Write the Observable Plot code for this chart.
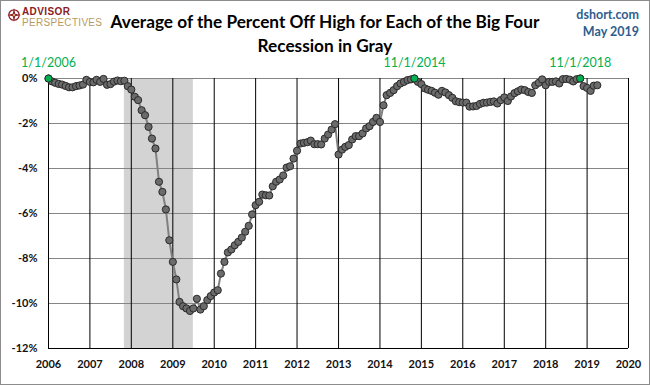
<!DOCTYPE html>
<html>
<head>
<meta charset="utf-8">
<script src="https://cdn.jsdelivr.net/npm/d3@7"></script>
<script src="https://cdn.jsdelivr.net/npm/@observablehq/plot@0.6"></script>
<style>
  body { margin: 0; background: #fff; }
  #wrap { position: relative; width: 650px; height: 385px; overflow: hidden; background: #fff; }
  #frame { position: absolute; left: 0; top: 0; width: 650px; height: 385px; box-sizing: border-box; border: 1px solid #8c8c8c; pointer-events: none; }
  .t { position: absolute; white-space: nowrap; line-height: 1; }
  .title { font-family: Lato, "Liberation Sans", sans-serif; font-weight: bold; color: #000; transform: translate(-50%, -50%); }
  .src { font-family: Lato, "Liberation Sans", sans-serif; font-weight: bold; color: #2E5E8E; font-size: 12.5px; transform: translate(-100%, -50%); }
  #chart svg { position: absolute; left: 0; top: 0; }
</style>
</head>
<body>
<div id="wrap">
  <div id="chart"></div>
  <svg class="t" style="left:7px;top:8px" width="14" height="14" viewBox="0 0 14 14">
    <circle cx="7" cy="7" r="5.2" fill="none" stroke="#8B1C24" stroke-width="1.3"/>
    <polygon points="7,0 8.2,5.8 14,7 8.2,8.2 7,14 5.8,8.2 0,7 5.8,5.8" fill="#8B1C24"/>
    <circle cx="7" cy="7" r="1.3" fill="#C9A86A"/>
  </svg>
  <div class="t" style="left:22px;top:7px;font-family:'Liberation Sans',sans-serif;font-weight:bold;font-size:10px;color:#8B1C24;letter-spacing:0.4px">ADVISOR</div>
  <div class="t" style="left:22px;top:17.5px;font-family:'Liberation Sans',sans-serif;font-size:10px;color:#B99A5E;letter-spacing:0.3px">PERSPECTIVES</div>
  <div class="t title" id="title1" style="left:325px;top:22px;font-size:18px">Average of the Percent Off High for Each of the Big Four</div>
  <div class="t title" id="title2" style="left:325px;top:46px;font-size:18px">Recession in Gray</div>
  <div class="t src" style="left:639px;top:15px">dshort.com</div>
  <div class="t src" style="left:639px;top:32px">May 2019</div>
  <div id="frame"></div>
</div>
<script>
// ---- data (percent off high, monthly, first of month) ----
const startYear = 2006;
const y2006 = [0, -0.13, -0.19, -0.24, -0.27, -0.33, -0.39, -0.39, -0.34, -0.31, -0.27, -0.06];
const y2007 = [-0.15, -0.17, -0.06, -0.15, -0.02, -0.28, -0.25, -0.14, -0.09, -0.12, -0.1, -0.34];
const y2008 = [-0.49, -0.81, -0.96, -1.41, -1.63, -2.15, -2.67, -3.11, -4.59, -5.04, -5.82, -7.19];
const y2009 = [-8.15, -8.93, -9.93, -10.12, -10.22, -10.33, -10.22, -9.79, -10.27, -10.12, -9.85, -9.67];
const y2010 = [-9.51, -9.41, -8.67, -8.15, -7.73, -7.6, -7.41, -7.26, -7.07, -6.81, -6.55, -6.04];
const y2011 = [-5.63, -5.48, -5.16, -5.19, -5.2, -4.79, -4.59, -4.49, -4.31, -3.96, -3.9, -3.56];
const y2012 = [-3.21, -2.89, -2.86, -2.83, -2.76, -2.92, -2.92, -2.93, -2.67, -2.49, -2.27, -2.03];
const y2013 = [-3.38, -3.16, -3.04, -2.96, -2.71, -2.56, -2.56, -2.44, -2.22, -2.12, -1.93, -1.75];
const y2014 = [-1.93, -1.19, -0.74, -0.64, -0.52, -0.34, -0.22, -0.15, -0.07, -0.04, 0, -0.15];
const y2015 = [-0.25, -0.44, -0.5, -0.55, -0.63, -0.72, -0.55, -0.62, -0.74, -0.86, -1.01, -1.05];
const y2016 = [-1.07, -1.07, -1.25, -1.24, -1.22, -1.13, -1.08, -1.07, -1.04, -1.02, -1.11, -0.96];
const y2017 = [-0.84, -1.0, -0.8, -0.65, -0.57, -0.49, -0.52, -0.6, -0.64, -0.3, -0.19, -0.04];
const y2018 = [-0.3, -0.15, -0.15, -0.13, -0.22, -0.03, -0.02, -0.05, -0.13, -0.03, 0, -0.34];
const y2019 = [-0.42, -0.55, -0.32, -0.3];

const yearSeries = [y2006, y2007, y2008, y2009, y2010, y2011, y2012, y2013, y2014, y2015, y2016, y2017, y2018, y2019];

const highDates = ["2006-01-01", "2014-11-01", "2018-11-01"];
const highLabels = ["1/1/2006", "11/1/2014", "11/1/2018"];

const recessionStart = ["2007-11-01"];
const recessionEnd = ["2009-07-01"];

const yearTicks = d3.range(2006, 2021);
const pctTicks = [0, -2, -4, -6, -8, -10, -12];

// ---- build tables ----
const data = [];
yearSeries.forEach((arr, yi) => {
  arr.forEach((v, m) => data.push({ date: new Date(Date.UTC(startYear + yi, m, 1)), value: v }));
});
const highs = highDates.map((d, i) => {
  const dt = new Date(d + "T00:00:00Z");
  const row = data.find(r => +r.date === +dt);
  return { date: dt, value: row ? row.value : 0, label: highLabels[i] };
});
const recessions = recessionStart.map((s, i) => ({ x1: new Date(s + "T00:00:00Z"), x2: new Date(recessionEnd[i] + "T00:00:00Z") }));
const yearDates = yearTicks.map(y => new Date(Date.UTC(y, 0, 1)));

const chart = Plot.plot({
  width: 650,
  height: 385,
  marginLeft: 48,
  marginRight: 22,
  marginTop: 78,
  marginBottom: 37,
  style: { fontFamily: "Lato, 'Liberation Sans', sans-serif", fontSize: "11px", fontWeight: "bold", color: "#111", background: "transparent" },
  x: { type: "utc", domain: [yearDates[0], yearDates[yearDates.length - 1]], ticks: yearDates, tickFormat: d3.utcFormat("%Y"), tickSize: 0, tickPadding: 12, label: null },
  y: { domain: [-12, 0], ticks: pctTicks, tickFormat: d => d + "%", tickSize: 0, tickPadding: 11, label: null },
  marks: [
    Plot.rect(recessions, { x1: "x1", x2: "x2", y1: -12, y2: 0, fill: "#d3d3d3" }),
    Plot.ruleY(pctTicks.filter(t => t !== -12), { stroke: "#858585", strokeWidth: 1 }),
    Plot.ruleX(yearDates, { stroke: "#000", strokeWidth: 1 }),
    Plot.ruleY([-12], { stroke: "#000", strokeWidth: 1 }),
    Plot.line(data, { x: "date", y: "value", stroke: "#808080", strokeWidth: 2 }),
    Plot.dot(data, { x: "date", y: "value", r: 3.6, fill: "#6b6b6b", stroke: "#2a2a2a", strokeWidth: 1 }),
    Plot.dot(highs, { x: "date", y: "value", r: 3.6, fill: "#00B050", stroke: "#2a2a2a", strokeWidth: 1 }),
    Plot.text(highs, { x: "date", y: "value", text: "label", dy: -16, fill: "#00B050", fontSize: 12.5, fontWeight: "normal" })
  ]
});
document.getElementById("chart").appendChild(chart);

// fit title width to reference
const t1 = document.getElementById("title1");
const t2 = document.getElementById("title2");
const w = t1.getBoundingClientRect().width;
if (w > 0) {
  const fs = 18 * 429 / w;
  t1.style.fontSize = fs + "px";
  t2.style.fontSize = fs + "px";
}
</script>
</body>
</html>
